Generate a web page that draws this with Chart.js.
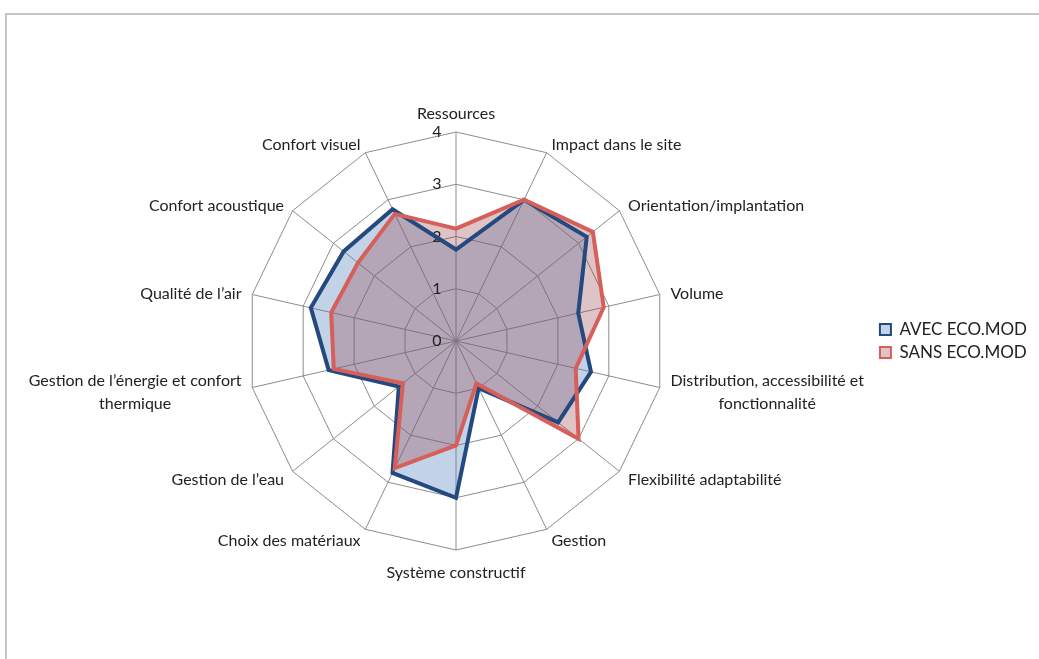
<!DOCTYPE html>
<html>
<head>
<meta charset="utf-8">
<script src="https://cdn.jsdelivr.net/npm/chart.js@4"></script>
<style>
  body { margin: 0; background: #fff; }
  #frame { position: absolute; left: 5px; top: 13px; width: 1100px; height: 700px;
           border-left: 2px solid #c4c4c4; border-top: 2px solid #c4c4c4; }
  #wrap { position: absolute; left: 7px; top: 15px; width: 1032px; height: 644px; }
</style>
</head>
<body>
<div id="frame"></div>
<div id="wrap"><canvas id="myChart"></canvas></div>
<script>
// Categories (clockwise from the top)
const categories = [
  "Ressources",
  "Impact dans le site",
  "Orientation/implantation",
  "Volume",
  ["Distribution, accessibilité et", "fonctionnalité"],
  "Flexibilité adaptabilité",
  "Gestion",
  "Système constructif",
  "Choix des matériaux",
  "Gestion de l’eau",
  ["Gestion de l’énergie et confort", "thermique"],
  "Qualité de l’air",
  "Confort acoustique",
  "Confort visuel",
];

// Series values
const avecEcoMod = [1.75, 3.0, 3.2, 2.4, 2.65, 2.5, 1.0, 3.0, 2.8, 1.4, 2.5, 2.85, 2.75, 2.8];
const sansEcoMod = [2.15, 3.0, 3.35, 2.9, 2.35, 3.0, 0.9, 2.0, 2.7, 1.3, 2.4, 2.45, 2.4, 2.7];

// Tick labels
const tickValues = [0, 1, 2, 3, 4];

const FONT = "Lato";
const TEXT = "#222";

// 0..4 written a little left of the first spoke (Chart.js would skip the 0)
const tickLabelPlugin = {
  id: "tickLabels",
  beforeDatasetsDraw(chart) {
    const scale = chart.scales.r;
    const c = chart.ctx;
    c.save();
    c.font = "16px " + FONT;
    c.fillStyle = TEXT;
    c.textAlign = "center";
    c.textBaseline = "middle";
    tickValues.forEach((v) => {
      const p = scale.getPointPositionForValue(0, v);
      c.fillText(String(v), p.x - 19, p.y);
    });
    c.restore();
  },
};

// category labels, vertically centred on their spoke like Excel does
const categoryLabelPlugin = {
  id: "categoryLabels",
  afterDraw(chart) {
    const scale = chart.scales.r;
    const c = chart.ctx;
    const n = categories.length;
    const lineH = 23;
    c.save();
    c.font = "16px " + FONT;
    c.fillStyle = TEXT;
    c.textAlign = "center";
    c.textBaseline = "middle";
    categories.forEach((label, i) => {
      const lines = Array.isArray(label) ? label : [label];
      const deg = Math.round((i * 360) / n);
      const p = scale.getPointPosition(i, scale.drawingArea + 11);
      const w = Math.max(...lines.map((l) => c.measureText(l).width));
      const h = lines.length * lineH;
      let left = p.x - w / 2;
      if (deg > 0 && deg < 180) left = p.x;
      if (deg > 180) left = p.x - w;
      let top = p.y - h / 2 + 2;
      if (deg === 0) top = p.y - h + 4;
      if (deg === 180) top = p.y;
      lines.forEach((line, k) => {
        c.fillText(line, left + w / 2, top + lineH * (k + 0.5));
      });
    });
    c.restore();
  },
};

const ctx = document.getElementById("myChart").getContext("2d");

new Chart(ctx, {
  type: "radar",
  data: {
    labels: categories,
    datasets: [
      {
        label: "AVEC ECO.MOD",
        data: avecEcoMod,
        fill: true,
        backgroundColor: "rgba(79, 129, 189, 0.35)",
        borderColor: "#23497f",
        borderWidth: 4,
        pointRadius: 0,
        order: 2,
      },
      {
        label: "SANS ECO.MOD",
        data: sansEcoMod,
        fill: true,
        backgroundColor: "rgba(150, 60, 70, 0.3)",
        borderColor: "#d65f5a",
        borderWidth: 4,
        pointRadius: 0,
        order: 1,
      },
    ],
  },
  options: {
    responsive: true,
    maintainAspectRatio: false,
    animation: false,
    layout: { padding: { left: 32, right: 2, top: 117, bottom: 109 } },
    elements: { line: { tension: 0, borderJoinStyle: "miter" } },
    scales: {
      r: {
        min: 0,
        max: 4,
        ticks: { stepSize: 1, display: false },
        grid: { color: "#8c8c8c", lineWidth: 1 },
        angleLines: { color: "#8c8c8c", lineWidth: 1 },
        pointLabels: { display: false },
      },
    },
    plugins: {
      tooltip: { enabled: false },
      filler: { drawTime: "beforeDatasetsDraw" },
      legend: {
        position: "right",
        labels: {
          font: { family: FONT, size: 17 },
          color: TEXT,
          boxWidth: 11,
          boxHeight: 11,
          padding: 6,
          sort: (a, b) => a.datasetIndex - b.datasetIndex,
          generateLabels(chart) {
            const items = Chart.defaults.plugins.legend.labels.generateLabels(chart);
            items.forEach((it) => { it.lineWidth = 2; });
            return items;
          },
        },
      },
    },
  },
  plugins: [tickLabelPlugin, categoryLabelPlugin],
});
</script>
</body>
</html>
